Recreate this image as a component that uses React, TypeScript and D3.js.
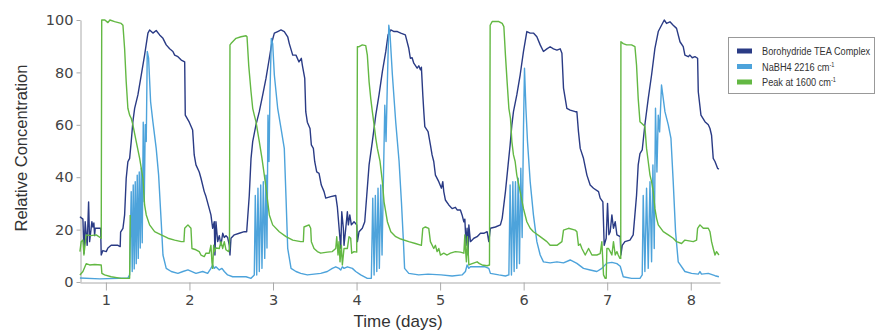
import React, { useEffect, useRef } from 'react';
import * as d3 from 'd3';

const seriesNames = ['Borohydride TEA Complex', 'NaBH4 2216 cm', 'Peak at 1600 cm'];
const seriesColors = ['#2a3b85', '#4da3db', '#63b843'];
const xTicks = [1, 2, 3, 4, 5, 6, 7, 8];
const yTicks = [0, 20, 40, 60, 80, 100];

// [day, relative concentration]
const complexData: [number, number][] = [
  [0.689, 24.9], [0.725, 24], [0.737, 11], [0.752, 23], [0.776, 14], [0.793, 30.6], [0.805, 15.4],
  [0.832, 23], [0.844, 21], [0.856, 22.5], [0.865, 17.7], [0.872, 20.5], [0.904, 20.5], [0.937, 20.5],
  [0.944, 10.3], [0.964, 12], [1.004, 11.6], [1.024, 13], [1.063, 14], [1.144, 14], [1.171, 13.5],
  [1.176, 19], [1.204, 20.5], [1.224, 25.6], [1.243, 39.6], [1.263, 45.9], [1.284, 47.2], [1.303, 53.6],
  [1.323, 61.2], [1.344, 66.3], [1.383, 71.4], [1.423, 79], [1.463, 86.6], [1.503, 95], [1.523, 96.2],
  [1.563, 95], [1.602, 96], [1.643, 94.3], [1.683, 93], [1.722, 90.5], [1.763, 89], [1.802, 88],
  [1.823, 86.6], [1.862, 86], [1.902, 84.7], [1.943, 84], [1.95, 63.7], [1.998, 61], [2.038, 58],
  [2.057, 48.5], [2.078, 44.7], [2.117, 42], [2.138, 39.6], [2.177, 34.5], [2.198, 32.6], [2.237, 28],
  [2.257, 25.6], [2.278, 20.5], [2.297, 23], [2.305, 10.3], [2.317, 23], [2.338, 15.4], [2.357, 17.7],
  [2.377, 14], [2.398, 18.6], [2.417, 17], [2.437, 17.7], [2.457, 17], [2.477, 14], [2.485, 10.3],
  [2.497, 16.7], [2.537, 18], [2.596, 18.6], [2.656, 19.2], [2.685, 19.2], [2.716, 33], [2.737, 47.2],
  [2.757, 53.6], [2.796, 60], [2.836, 65], [2.877, 71.4], [2.916, 77.7], [2.956, 85.4], [2.988, 91.7],
  [3.016, 95], [3.056, 95.6], [3.096, 96.2], [3.135, 95.6], [3.176, 93.6], [3.195, 91], [3.236, 86.6],
  [3.275, 86.6], [3.311, 84], [3.339, 85.4], [3.351, 82.8], [3.38, 77.7], [3.392, 65], [3.411, 61],
  [3.443, 58.6], [3.459, 52.3], [3.483, 51], [3.499, 46], [3.523, 42], [3.551, 41.5], [3.578, 37],
  [3.611, 34.5], [3.631, 32], [3.691, 32.6], [3.751, 33], [3.77, 28.7], [3.811, 12.8], [3.823, 26.8],
  [3.842, 20.5], [3.85, 14], [3.871, 20.5], [3.89, 26.8], [3.902, 21.8], [3.919, 25.6], [3.938, 21.8],
  [3.97, 23], [4.002, 21.8], [4.01, 15.4], [4.03, 19.2], [4.069, 20.5], [4.098, 23], [4.122, 33],
  [4.15, 44.7], [4.189, 53.6], [4.23, 63.7], [4.269, 71.4], [4.309, 80.3], [4.35, 88], [4.377, 94.3],
  [4.41, 96.2], [4.449, 95.6], [4.489, 95.6], [4.529, 95], [4.584, 94.3], [4.625, 89.2], [4.644, 85.4],
  [4.665, 85.6], [4.685, 83.5], [4.725, 81.6], [4.745, 82.5], [4.764, 81], [4.776, 82], [4.793, 71.4],
  [4.805, 65], [4.817, 59.3], [4.856, 57.4], [4.884, 52.3], [4.904, 48.5], [4.924, 46], [4.944, 40.8],
  [4.984, 38.3], [5.016, 35.8], [5.032, 38.3], [5.044, 34.5], [5.063, 31.3], [5.104, 29.4], [5.144, 28],
  [5.183, 28.5], [5.204, 27.5], [5.243, 27.5], [5.263, 25.6], [5.284, 23], [5.296, 24], [5.311, 14],
  [5.323, 20.5], [5.335, 10.3], [5.344, 21.8], [5.363, 15.4], [5.404, 16.7], [5.443, 17.3], [5.483, 18.6],
  [5.523, 18.6], [5.563, 19.2], [5.583, 15.4], [5.602, 20.5], [5.662, 21], [5.722, 21.8], [5.743, 24.3],
  [5.782, 34.5], [5.814, 44.7], [5.838, 52.3], [5.859, 60], [5.878, 65], [5.918, 71.4], [5.958, 79],
  [5.998, 88], [6.038, 95.6], [6.078, 95], [6.117, 95], [6.158, 93.6], [6.198, 90.5], [6.237, 88],
  [6.278, 89], [6.317, 89.8], [6.357, 89], [6.398, 88.5], [6.437, 89], [6.458, 87.3], [6.477, 74],
  [6.517, 66.3], [6.557, 65.6], [6.617, 65], [6.637, 65], [6.656, 57.4], [6.677, 51], [6.716, 47.2],
  [6.757, 40.8], [6.796, 37], [6.836, 35.8], [6.896, 34.5], [6.916, 32], [6.948, 30.6], [6.964, 14],
  [6.988, 16.7], [7.004, 30], [7.02, 18], [7.036, 19.2], [7.056, 25.6], [7.075, 20.5], [7.096, 23],
  [7.116, 18], [7.156, 17.3], [7.164, 10.3], [7.18, 14], [7.212, 15.4], [7.272, 16], [7.311, 18],
  [7.351, 33], [7.371, 44.7], [7.392, 49], [7.419, 50.4], [7.451, 60], [7.491, 70], [7.531, 79],
  [7.571, 89.2], [7.611, 95.6], [7.65, 98], [7.683, 100], [7.71, 98.7], [7.751, 99.3], [7.79, 98],
  [7.83, 96.8], [7.871, 91.7], [7.91, 89.8], [7.93, 86.6], [7.97, 86], [7.99, 86.6], [8.018, 85.6],
  [8.05, 86], [8.082, 85.4], [8.09, 72.6], [8.122, 63.7], [8.17, 61.2], [8.21, 60], [8.23, 58.6],
  [8.249, 56], [8.269, 47.2], [8.29, 46], [8.321, 43.4], [8.337, 43.1],
];

const nabh4Data: [number, number][] = [
  [0.689, 1.5], [0.928, 1.2], [1.263, 1.5], [1.284, 2.7], [1.303, 34.5], [1.315, 4], [1.327, 37],
  [1.339, 5], [1.351, 38.3], [1.363, 7], [1.375, 40.8], [1.387, 9], [1.399, 42], [1.411, 13],
  [1.423, 43.4], [1.435, 15], [1.447, 61], [1.459, 30.6], [1.471, 60], [1.483, 53.6], [1.495, 88],
  [1.511, 85.4], [1.535, 68.8], [1.563, 61], [1.602, 51], [1.631, 40.8], [1.662, 23], [1.683, 10.3],
  [1.722, 5.2], [1.782, 4], [1.862, 3.3], [1.922, 4], [1.982, 4.6], [2.078, 3.3], [2.158, 4],
  [2.218, 3.3], [2.257, 5.2], [2.278, 6.5], [2.297, 5.2], [2.317, 5.8], [2.357, 4.6], [2.389, 5.2],
  [2.417, 4], [2.457, 2.7], [2.517, 2], [2.677, 2], [2.737, 1.4], [2.776, 2.7], [2.788, 33],
  [2.805, 2.7], [2.82, 35.8], [2.836, 4], [2.853, 37], [2.868, 5.2], [2.884, 38.3], [2.901, 9],
  [2.916, 40.8], [2.928, 13], [2.94, 63.7], [2.952, 46], [2.964, 72.6], [2.98, 93], [2.996, 91],
  [3.016, 79], [3.056, 66.3], [3.096, 58.6], [3.135, 51], [3.156, 32], [3.176, 12.8], [3.216, 5.2],
  [3.275, 4], [3.332, 3.3], [3.411, 2.7], [3.491, 3], [3.571, 3.3], [3.65, 4], [3.71, 5.2],
  [3.751, 5.8], [3.79, 5.2], [3.811, 4.6], [3.83, 5.8], [3.85, 5.2], [3.89, 5.8], [3.95, 5.2],
  [3.99, 4], [4.05, 2.7], [4.129, 1.4], [4.177, 1.4], [4.194, 32], [4.21, 2.7], [4.225, 33],
  [4.242, 4], [4.257, 35.8], [4.273, 5.2], [4.29, 37], [4.305, 10.3], [4.321, 38.3], [4.338, 67.5],
  [4.353, 53.6], [4.369, 76.4], [4.386, 98], [4.401, 94.3], [4.429, 79], [4.469, 61], [4.509, 46],
  [4.537, 30.6], [4.561, 15.4], [4.575, 5.2], [4.625, 3.3], [4.744, 2.7], [4.856, 3], [5.012, 2.7],
  [5.144, 2.3], [5.263, 2.7], [5.303, 4], [5.323, 6.5], [5.344, 5.2], [5.363, 5.8], [5.455, 5.8],
  [5.539, 5.8], [5.583, 5.2], [5.602, 3.3], [5.703, 2.7], [5.782, 2.3], [5.823, 2.7], [5.838, 37],
  [5.854, 2.7], [5.871, 38.3], [5.886, 4], [5.902, 38.3], [5.918, 5.2], [5.934, 39.6], [5.95, 7],
  [5.966, 43.4], [5.982, 17], [5.998, 58.6], [6.01, 81.6], [6.027, 66.3], [6.046, 53.6], [6.078, 38.3],
  [6.117, 25.6], [6.158, 15.4], [6.198, 10.3], [6.237, 7.7], [6.317, 7.3], [6.398, 7.7], [6.477, 7.3],
  [6.557, 8.4], [6.637, 7.1], [6.716, 5.2], [6.796, 4.6], [6.876, 4], [6.936, 5.2], [6.996, 7.2],
  [7.056, 7.5], [7.116, 7], [7.156, 6], [7.192, 2], [7.291, 1.4], [7.392, 1.4], [7.419, 2.7],
  [7.431, 33], [7.451, 4], [7.471, 35.8], [7.491, 5.2], [7.512, 38.3], [7.531, 7.7], [7.547, 44.7],
  [7.563, 12.8], [7.578, 66.3], [7.595, 42], [7.611, 63.7], [7.627, 57.3], [7.65, 75.2], [7.671, 70],
  [7.691, 65], [7.731, 60], [7.763, 54.8], [7.79, 38.3], [7.818, 19.2], [7.85, 7.7], [7.93, 4],
  [8.01, 3.3], [8.09, 3], [8.11, 4], [8.129, 3], [8.21, 3.3], [8.29, 2.4], [8.337, 2],
];

const peakData: [number, number][] = [
  [0.689, 11.6], [0.704, 15.4], [0.725, 16], [0.737, 10.3], [0.764, 18], [0.82, 17.7], [0.884, 18],
  [0.944, 16.7], [0.95, 100], [0.988, 100], [1.024, 99], [1.048, 100], [1.104, 99.4], [1.183, 98.7],
  [1.204, 98], [1.224, 89], [1.243, 76.4], [1.263, 66.3], [1.284, 63.7], [1.303, 62.5], [1.323, 60],
  [1.363, 53.6], [1.404, 47.2], [1.443, 39.6], [1.463, 29.4], [1.483, 25.6], [1.523, 21.8],
  [1.583, 19.2], [1.662, 18], [1.743, 16.7], [1.823, 16], [1.902, 15.4], [1.934, 15.4], [1.943, 20.5],
  [1.982, 21.8], [2.018, 20.5], [2.03, 12.8], [2.078, 12.3], [2.117, 11.6], [2.138, 10.3], [2.177, 9.7],
  [2.198, 11], [2.237, 11], [2.257, 14], [2.269, 7.7], [2.278, 5.2], [2.29, 14], [2.297, 11.6],
  [2.317, 13], [2.357, 12.8], [2.377, 15.4], [2.398, 12.8], [2.417, 15.4], [2.437, 12.3], [2.469, 11.6],
  [2.479, 12.8], [2.485, 90.5], [2.497, 91], [2.557, 93], [2.617, 93.6], [2.677, 94], [2.689, 93.6],
  [2.709, 82.8], [2.737, 72.6], [2.757, 66.3], [2.776, 63.7], [2.796, 61.2], [2.836, 53.6],
  [2.868, 47.2], [2.896, 40.8], [2.916, 36], [2.956, 25.6], [2.996, 21.8], [3.075, 19.2], [3.156, 17.3],
  [3.236, 16], [3.332, 15.4], [3.363, 15.4], [3.371, 21], [3.431, 21.8], [3.451, 20.5], [3.459, 15.4],
  [3.491, 12.8], [3.531, 11.6], [3.571, 11], [3.65, 11.4], [3.71, 11.6], [3.751, 12.8], [3.763, 17.3],
  [3.778, 10.3], [3.79, 15.4], [3.802, 7.7], [3.818, 14], [3.83, 6.5], [3.85, 12.8], [3.89, 12.8],
  [3.91, 17.3], [3.93, 16.7], [3.942, 11], [3.97, 11.6], [4.002, 11.4], [4.01, 89.8], [4.03, 89.8],
  [4.069, 90.5], [4.11, 90.2], [4.129, 86.6], [4.15, 76.4], [4.17, 70], [4.189, 65], [4.21, 60],
  [4.23, 54.8], [4.249, 51], [4.281, 46], [4.309, 38.3], [4.329, 30.6], [4.369, 23], [4.41, 19.2],
  [4.469, 17.3], [4.529, 16.4], [4.625, 15.4], [4.704, 14.7], [4.776, 14], [4.793, 20.5], [4.824, 21],
  [4.864, 20.5], [4.884, 15.4], [4.924, 12.8], [4.944, 14], [4.964, 11.6], [4.984, 12.8], [5.004, 10.3],
  [5.044, 11], [5.084, 10.3], [5.123, 11], [5.183, 11.6], [5.243, 11.4], [5.284, 11], [5.296, 18],
  [5.303, 12.8], [5.315, 7.7], [5.327, 17.3], [5.344, 6.5], [5.383, 7], [5.443, 7.7], [5.471, 7],
  [5.503, 6.5], [5.563, 6.2], [5.591, 6.5], [5.599, 98], [5.623, 99.4], [5.703, 99.4], [5.743, 98.7],
  [5.763, 97.5], [5.782, 86.6], [5.802, 76.4], [5.823, 66.3], [5.842, 62.5], [5.859, 53.6],
  [5.878, 48.5], [5.898, 46], [5.918, 40.8], [5.958, 34.5], [5.998, 28], [6.038, 23], [6.078, 20.5],
  [6.117, 19.2], [6.198, 17.3], [6.278, 15.4], [6.317, 14], [6.398, 14], [6.458, 15.4], [6.477, 19.8],
  [6.537, 20.5], [6.617, 19.8], [6.637, 19.2], [6.656, 14], [6.677, 14.5], [6.697, 12.8], [6.737, 10.3],
  [6.777, 12.8], [6.817, 10.3], [6.876, 10.3], [6.916, 10.8], [6.936, 15.4], [6.948, 7.7], [6.956, 2.7],
  [6.976, 1.4], [6.988, 1.4], [6.996, 12.8], [7.016, 12.8], [7.036, 11.6], [7.056, 10.3], [7.075, 15.4],
  [7.096, 10.3], [7.116, 11.6], [7.132, 10.3], [7.152, 9], [7.162, 9], [7.164, 91.7], [7.192, 91],
  [7.232, 90.5], [7.291, 90.5], [7.332, 89.8], [7.351, 82.8], [7.371, 70], [7.392, 61.2], [7.431, 60],
  [7.451, 59.3], [7.471, 51], [7.491, 46], [7.512, 40.8], [7.531, 38.3], [7.551, 34.5], [7.571, 28],
  [7.591, 24.3], [7.611, 21.8], [7.671, 19.2], [7.731, 18], [7.79, 16.7], [7.83, 15.4], [7.89, 14.7],
  [7.93, 16], [8.03, 15.4], [8.07, 16], [8.082, 20.5], [8.11, 21.8], [8.15, 20.5], [8.21, 20.5],
  [8.23, 19.2], [8.249, 15.4], [8.269, 12.8], [8.29, 10.3], [8.309, 11.6], [8.337, 10.3],
];

// second trace of the 1600 cm-1 peak at the start of the run
const peakLowData: [number, number][] = [
  [0.689, 2.7], [0.725, 4], [0.764, 7], [0.805, 6.5], [0.865, 6.7], [0.944, 6.5], [0.952, 3.3],
  [0.984, 2.7], [1.063, 2], [1.183, 1.4], [1.284, 1.4], [1.291, 25.6],
];

export default function App() {
  const svgRef = useRef<SVGSVGElement>(null);

  useEffect(() => {
    const svg = d3.select(svgRef.current);
    svg.selectAll('*').remove();

    const x = d3.scaleLinear().domain([0.69, 8.35]).range([80, 720]);
    const y = d3.scaleLinear().domain([0, 100]).range([282, 20]);

    const line = d3.line<[number, number]>()
      .x(d => x(d[0]))
      .y(d => y(d[1]));

    // axes
    const xAxis = svg.append('g')
      .attr('transform', 'translate(0,282.5)')
      .call(d3.axisBottom(x).tickValues(xTicks).tickSize(8).tickSizeOuter(0).tickPadding(4).tickFormat(d3.format('d')));
    const yAxis = svg.append('g')
      .attr('transform', 'translate(80.5,0)')
      .call(d3.axisLeft(y).tickValues(yTicks).tickSize(4).tickSizeOuter(0).tickPadding(3));

    [xAxis, yAxis].forEach(g => {
      g.select('.domain').attr('stroke', '#aaa');
      g.selectAll('.tick line').attr('stroke', '#aaa');
      g.selectAll('.tick text')
        .attr('fill', '#444')
        .style('font-family', '"DejaVu Sans", sans-serif')
        .style('font-size', '14.5px');
    });

    // lines
    const lineSets: [[number, number][], string][] = [
      [complexData, seriesColors[0]],
      [nabh4Data, seriesColors[1]],
      [peakData, seriesColors[2]],
      [peakLowData, seriesColors[2]],
    ];
    lineSets.forEach(([data, color]) => {
      svg.append('path')
        .datum(data)
        .attr('fill', 'none')
        .attr('stroke', color)
        .attr('stroke-width', 1.4)
        .attr('stroke-linejoin', 'round')
        .attr('d', line);
    });

    // axis titles
    svg.append('text')
      .attr('transform', 'translate(27,148) rotate(-90)')
      .attr('text-anchor', 'middle')
      .attr('fill', '#333')
      .style('font-family', '"Liberation Sans", sans-serif')
      .style('font-size', '16.5px')
      .text('Relative Concentration');

    svg.append('text')
      .attr('x', 398)
      .attr('y', 327)
      .attr('text-anchor', 'middle')
      .attr('fill', '#333')
      .style('font-family', '"Liberation Sans", sans-serif')
      .style('font-size', '17px')
      .text('Time (days)');

    // legend
    const legend = svg.append('g');
    legend.append('rect')
      .attr('x', 728.5).attr('y', 37.5)
      .attr('width', 146).attr('height', 56)
      .attr('fill', '#fff').attr('stroke', '#999');

    const rowY = [51, 66.5, 82];
    seriesNames.forEach((name, i) => {
      legend.append('rect')
        .attr('x', 737).attr('y', rowY[i] - 2.5)
        .attr('width', 15).attr('height', 5)
        .attr('fill', seriesColors[i]);
      // condensed look of the original legend font
      const t = legend.append('text')
        .attr('transform', `translate(762,${rowY[i] + 4}) scale(0.8,1)`)
        .attr('fill', '#333')
        .style('font-family', '"Liberation Sans", sans-serif')
        .style('font-size', '11.5px')
        .text(name);
      if (i > 0) {
        t.append('tspan')
          .attr('dy', -4)
          .style('font-size', '7px')
          .text('-1');
      }
    });
  }, []);

  return (
    <svg
      ref={svgRef}
      width={876}
      height={332}
      style={{ position: 'absolute', left: 0, top: 0, background: '#fff' }}
    />
  );
}
